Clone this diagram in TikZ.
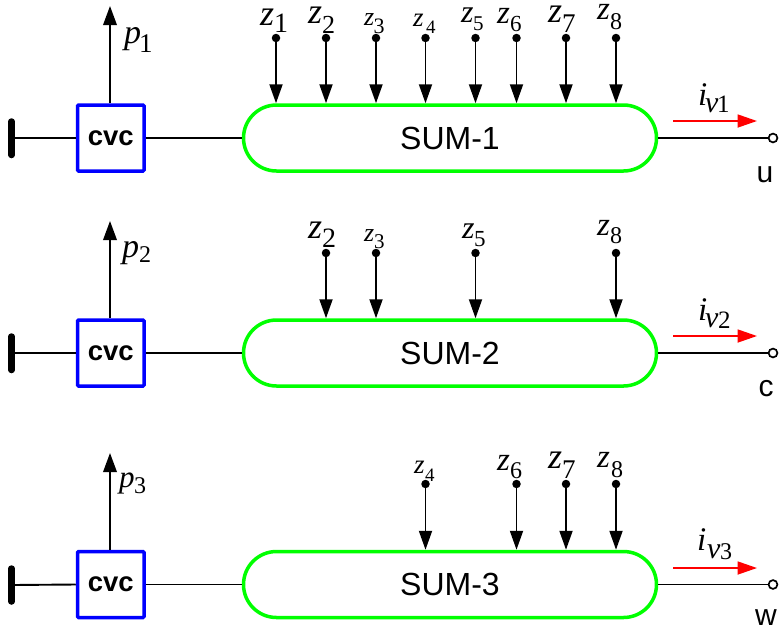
\documentclass[tikz,border=0pt]{standalone}
\usepackage{fontspec}
\setmainfont{Liberation Serif}
\setsansfont{Liberation Sans}
\usetikzlibrary{arrows.meta,shapes.misc}
\definecolor{sumgreen}{RGB}{0,255,0}
\tikzset{
  sumbox/.style={draw=sumgreen,line width=3.5pt,rounded rectangle,minimum width=413pt,minimum height=66pt,inner sep=0pt,font=\sffamily\fontsize{32}{32}\selectfont},
  cvcbox/.style={draw=blue,line width=3.5pt,rounded corners=1pt,minimum width=66.5pt,minimum height=66pt,inner sep=0pt,font=\sffamily\bfseries\fontsize{27.5}{27.5}\selectfont},
  wire/.style={draw=black,line width=1.9pt},
  busbar/.style={draw=black,line width=6.5pt,line cap=round},
  inarrow/.style={wire,-{Triangle[length=19pt,width=13pt]}},
  uparrow/.style={wire,-{Triangle[length=19pt,width=13.5pt]}},
  redarrow/.style={draw=red,line width=1.8pt,-{Triangle[length=19.5pt,width=13pt]}},
  dotnode/.style={circle,fill=black,inner sep=0pt,minimum size=8.5pt},
  termnode/.style={circle,fill=white,draw=black,line width=1.7pt,inner sep=0pt,minimum size=8.8pt},
  lab/.style={inner sep=0pt,anchor=base west},
  outlab/.style={inner sep=0pt,anchor=base,font=\sffamily\fontsize{30}{30}\selectfont},
}
% symbol size, symbol, advance to index, drop of index, index size, index
\newcommand{\symsub}[6]{\makebox[#3pt][l]{\fontsize{#1}{#1}\selectfont\itshape #2}\raisebox{-#4pt}{\fontsize{#5}{#5}\selectfont\upshape #6}}
\begin{document}
\begin{tikzpicture}[x=1pt,y=-1pt]
\useasboundingbox (0,0) rectangle (781,630);
% ---- row 1
\node[sumbox] (s1) at (450,138) {SUM-1};
\node[cvcbox] (c1) at (110.75,138) {cvc};
\coordinate (b1) at (11.5,138);
\draw[busbar] (11.5,121.5) -- (11.5,155);
\draw[wire] (b1) -- (c1.west);
\draw[wire] (c1.east) -- (s1.west);
\coordinate (pt1) at (110,6);
\draw[uparrow] (c1.north -| pt1) -- (pt1);
\node[lab] (pl1) at (124,43) {\symsub{34}{p}{15}{9}{27}{1}};
\node[termnode] (t1) at (773,138) {};
\draw[wire] (s1.east) -- (t1);
\coordinate (ra1) at (673,121); \coordinate (rb1) at (757,121);
\draw[redarrow] (ra1) -- (rb1);
\node[lab] (il1) at (698,105) {\symsub{33}{i}{7}{7}{30}{\symsub{30}{v}{12}{0.5}{25}{1}}};
\node[outlab] (o1) at (765,182) {u};
% ---- row 2
\node[sumbox] (s2) at (450,353) {SUM-2};
\node[cvcbox] (c2) at (110.75,353) {cvc};
\coordinate (b2) at (11.5,353);
\draw[busbar] (11.5,336.5) -- (11.5,370);
\draw[wire] (b2) -- (c2.west);
\draw[wire] (c2.east) -- (s2.west);
\coordinate (pt2) at (110,221);
\draw[uparrow] (c2.north -| pt2) -- (pt2);
\node[lab] (pl2) at (122,257) {\symsub{34}{p}{17}{5}{24}{2}};
\node[termnode] (t2) at (773,353) {};
\draw[wire] (s2.east) -- (t2);
\coordinate (ra2) at (673,336); \coordinate (rb2) at (757,336);
\draw[redarrow] (ra2) -- (rb2);
\node[lab] (il2) at (698,320) {\symsub{33}{i}{7}{7}{30}{\symsub{30}{v}{13}{1}{25}{2}}};
\node[outlab] (o2) at (766,396) {c};
% ---- row 3
\node[sumbox] (s3) at (450,584.5) {SUM-3};
\node[cvcbox] (c3) at (110.75,584.5) {cvc};
\coordinate (b3) at (11.5,585);
\draw[busbar] (11.5,568.5) -- (11.5,601.5);
\draw[wire] (b3) -- (c3.west);
\draw[wire] (c3.east) -- (s3.west);
\coordinate (pt3) at (110,453);
\draw[uparrow] (c3.north -| pt3) -- (pt3);
\node[lab] (pl3) at (119,487) {\symsub{31}{p}{15}{6}{24}{3}};
\node[termnode] (t3) at (773,584.5) {};
\draw[wire] (s3.east) -- (t3);
\coordinate (ra3) at (673,568); \coordinate (rb3) at (757,568);
\draw[redarrow] (ra3) -- (rb3);
\node[lab] (il3) at (697,550) {\symsub{33}{i}{10}{8}{30}{\symsub{30}{v}{13}{1}{24}{3}}};
\node[outlab] (o3) at (766,625) {w};
% ---- inputs: name/x/y/row/label x/baseline/z size/advance/drop/index size/index
\foreach \nm/\x/\y/\r/\lx/\ly/\sz/\ad/\dr/\ds/\n in {
 a1/276/38/1/260/25/36/14/7/28/1, a2/326/38/1/308/23/36/14/10/26/2, a3/376/38/1/364/25/26/9.5/8/22/3,
 a4/425.5/38/1/413/26/27/13/7/19/4, a5/475.5/38/1/461/22/32/12/8/21/5, a6/516.5/38/1/497/23/33/13/8/23/6,
 a7/566/38/1/548/22/36/14/10/27/7, a8/616/38/1/597/19/33/13/10/24/8,
 b2/326/253/2/308/238/36/14/9/28/2, b3/376/253/2/364/241/26/10/7/21/3, b5/475.5/253/2/462/238/32/12/8/23/5, b8/616/253/2/597/235/33/13/8/24/8,
 c4/425.5/484/3/414/473/27/11/8/19/4, c6/516.5/484/3/497/470/33/13/8/24/6, c7/566/484/3/548/468/36/14/10/27/7, c8/616/484/3/597/467/33/14/10/24/8}{
  \node[dotnode] (d\nm) at (\x,\y) {};
  \node[lab] (z\nm) at (\lx,\ly) {\symsub{\sz}{z}{\ad}{\dr}{\ds}{\n}};
  \draw[inarrow] (d\nm) -- (d\nm |- s\r.north);
}
\end{tikzpicture}
\end{document}
